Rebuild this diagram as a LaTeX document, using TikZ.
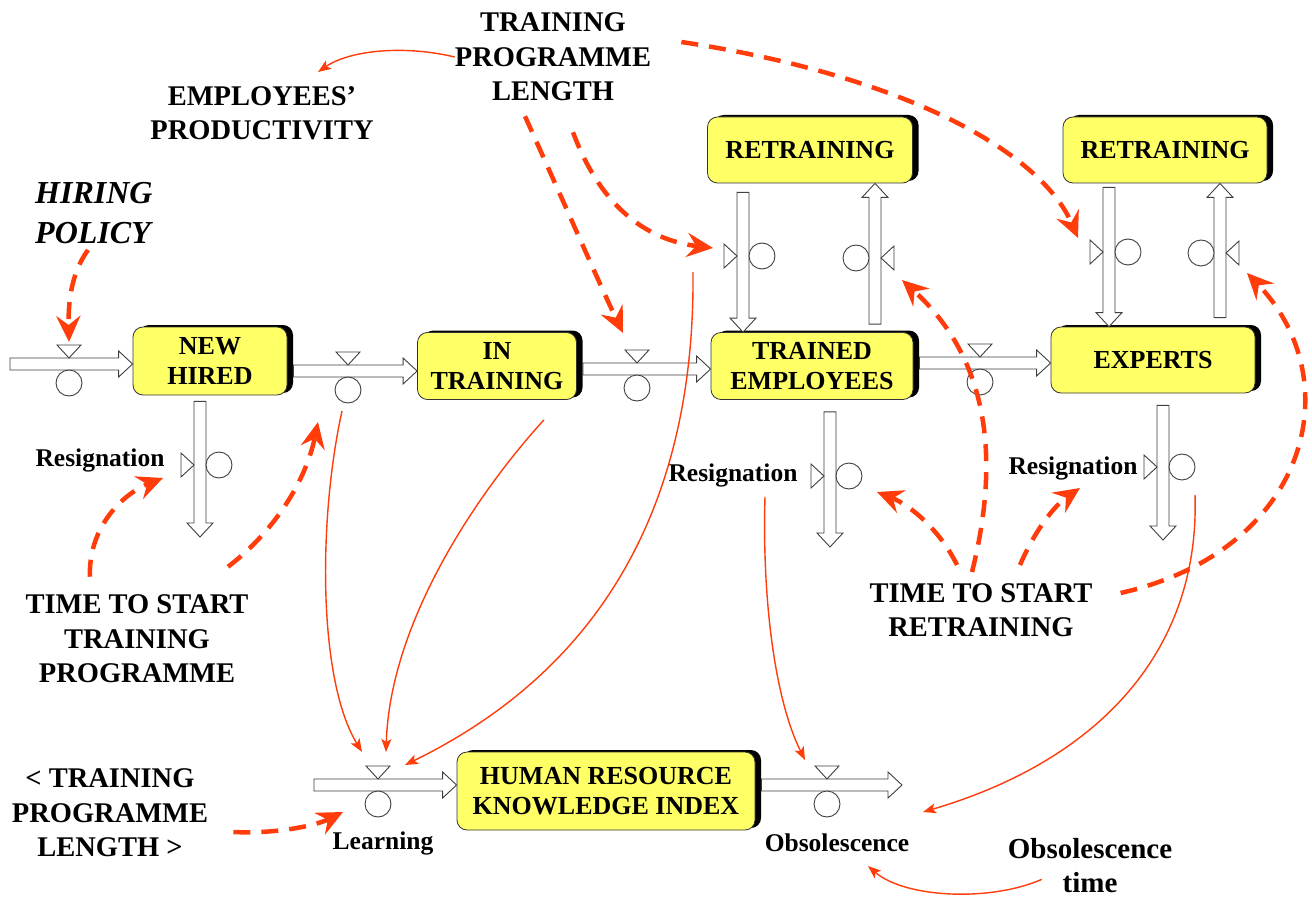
\documentclass[tikz,border=0pt]{standalone}
\usepackage{fontspec}
\setmainfont{Liberation Serif}
\usetikzlibrary{arrows.meta,calc,shadows}
\definecolor{boxYellow}{RGB}{255,255,102}
\definecolor{linkRed}{RGB}{255,60,10}

% pipe of a flow: [gap at tail]{tail}{head}
\newcommand\flowpipe[3][0pt]{%
  \coordinate (pA0) at (#2);
  \coordinate (pB) at (#3);
  \coordinate (pA) at ($(pA0)!#1!(pB)$);
  \coordinate (pH) at ($(pB)!14pt!(pA)$);
  \draw[pipeLine] ($(pA)!6pt!90:(pB)$) -- ($(pH)!6pt!90:(pB)$)
    -- ($(pH)!13pt!90:(pB)$) -- (pB) -- ($(pH)!13pt!-90:(pB)$)
    -- ($(pH)!6pt!-90:(pB)$) -- ($(pA)!6pt!-90:(pB)$) -- cycle;}

\begin{document}
\begin{tikzpicture}
  [x=1pt,y=-1pt,
   box/.style={draw=black!80, line width=0.8pt, fill=boxYellow, rounded corners=10pt,
     align=center, inner sep=0pt, font=\fontsize{26}{30}\selectfont\bfseries,
     general shadow={fill=black, shadow xshift=6pt, shadow yshift=2pt}},
   lbl/.style={align=center, inner sep=0pt, font=\fontsize{28.5}{34.5}\selectfont\bfseries},
   smallLbl/.style={inner sep=0pt, font=\fontsize{25.5}{30}\selectfont\bfseries},
   pipeLine/.style={draw=black!75, line width=0.9pt, fill=white},
   valveLine/.style={draw=black!75, line width=0.9pt, fill=white},
   link/.style={linkRed, line width=1.4pt, -{Stealth[length=13pt,width=10pt,inset=3pt]}},
   dlink/.style={linkRed, line width=4.5pt, dash pattern=on 17pt off 11pt,
     -{Stealth[length=26pt,width=24pt,inset=9pt]}},
   valve/.pic={
     \draw[valveLine] (-12pt,19pt) -- (12pt,19pt) -- (0pt,6pt) -- cycle;
     \draw[valveLine] (0pt,-19pt) circle[radius=13pt];
   },
  ]
 \fill[white] (0,0) rectangle (1312,904);
 \useasboundingbox (0,0) rectangle (1312,904);

 % stocks
 \node[box, minimum width=154pt, minimum height=68pt] (nh) at (210,361) {NEW\\HIRED};
 \node[box, minimum width=159pt, minimum height=67pt] (it) at (497,366) {IN\\TRAINING};
 \node[box, minimum width=202pt, minimum height=67pt] (te) at (812,366) {TRAINED\\EMPLOYEES};
 \node[box, minimum width=204pt, minimum height=66pt] (ex) at (1153,360) {EXPERTS};
 \node[box, minimum width=205pt, minimum height=66pt] (rt1) at (810,150) {RETRAINING};
 \node[box, minimum width=204pt, minimum height=66pt] (rt2) at (1165,150) {RETRAINING};
 \node[box, minimum width=298pt, minimum height=78pt] (hr) at (606,791) {HUMAN RESOURCE\\KNOWLEDGE INDEX};

 % valve positions, sources and sinks
 \coordinate (vIn) at (69,364);
 \coordinate (vNI) at (348,371);
 \coordinate (vIT) at (637,369);
 \coordinate (vTE) at (980,363);
 \coordinate (vNHr) at (200,465);
 \coordinate (vTEr) at (830,476);
 \coordinate (vEXr) at (1163,467);
 \coordinate (vR1d) at (743,256);
 \coordinate (vR1u) at (875,258);
 \coordinate (vR2d) at (1109,252);
 \coordinate (vR2u) at (1220,253);
 \coordinate (vL) at (378,785);
 \coordinate (vO) at (827,785);
 \coordinate (srcIn) at (10,364);
 \coordinate (srcL) at (314,785);
 \coordinate (sinkNH) at (200,537);
 \coordinate (sinkTE) at (830,547);
 \coordinate (sinkEX) at (1163,540);
 \coordinate (sinkO) at (902,785);

 % flows
 \flowpipe{srcIn}{nh.west |- vIn}
 \flowpipe[6pt]{nh.east |- vNI}{it.west |- vNI}
 \flowpipe[6pt]{it.east |- vIT}{te.west |- vIT}
 \flowpipe[6pt]{te.east |- vTE}{ex.west |- vTE}
 \flowpipe[6pt]{nh.south -| vNHr}{sinkNH}
 \flowpipe[12pt]{te.south -| vTEr}{sinkTE}
 \flowpipe[12pt]{ex.south -| vEXr}{sinkEX}
 \flowpipe[9pt]{rt1.south -| vR1d}{te.north -| vR1d}
 \flowpipe[8pt]{te.north -| vR1u}{rt1.south -| vR1u}
 \flowpipe[4pt]{rt2.south -| vR2d}{ex.north -| vR2d}
 \flowpipe[9pt]{ex.north -| vR2u}{rt2.south -| vR2u}
 \flowpipe{srcL}{hr.west |- vL}
 \flowpipe[6pt]{hr.east |- vO}{sinkO}

 \pic at (vIn) {valve};
 \pic at (vNI) {valve};
 \pic at (vIT) {valve};
 \pic at (vTE) {valve};
 \pic[rotate=90] at (vNHr) {valve};
 \pic[rotate=90] at (vTEr) {valve};
 \pic[rotate=90] at (vEXr) {valve};
 \pic[rotate=90] at (vR1d) {valve};
 \pic[rotate=-90] at (vR1u) {valve};
 \pic[rotate=90] at (vR2d) {valve};
 \pic[rotate=-90] at (vR2u) {valve};
 \pic at (vL) {valve};
 \pic at (vO) {valve};

 % labels
 \node[lbl] (tpl) at (553,57) {TRAINING\\PROGRAMME\\LENGTH};
 \node[lbl] (prod) at (262,113) {EMPLOYEES’\\PRODUCTIVITY};
 \node[lbl, font=\fontsize{32}{40}\selectfont\bfseries\itshape, align=left, anchor=west] (hire) at (35,213) {HIRING\\POLICY};
 \node[lbl] (tstt) at (137,639) {TIME TO START\\TRAINING\\PROGRAMME};
 \node[lbl] (tplB) at (110,813) {< TRAINING\\PROGRAMME\\LENGTH >};
 \node[lbl] (tstr) at (981,610) {TIME TO START\\RETRAINING};
 \node[lbl, font=\fontsize{29}{34}\selectfont\bfseries] (obst) at (1090,866) {Obsolescence\\time};
 \node[smallLbl] (resA) at (100,460) {Resignation};
 \node[smallLbl] (resB) at (733,475) {Resignation};
 \node[smallLbl] (resC) at (1073,468) {Resignation};
 \node[smallLbl] (learn) at (383,843) {Learning};
 \node[smallLbl] (obs) at (837,843) {Obsolescence};

 % arrow tips
 \coordinate (tProd) at (318,72);
 \coordinate (tL1) at (362,752);
 \coordinate (tL2) at (386,752);
 \coordinate (tL3) at (405,765);
 \coordinate (tO1) at (805,760);
 \coordinate (tO2) at (923,812);
 \coordinate (tO3) at (868,866);
 \coordinate (tIn) at (69,342);
 \coordinate (tResA) at (163,478);
 \coordinate (tNI) at (318,422);
 \coordinate (tLd) at (343,812);
 \coordinate (tIT) at (623,333);
 \coordinate (tR1d) at (713,248);
 \coordinate (tR2d) at (1078,238);
 \coordinate (tResB) at (877,492);
 \coordinate (tResC) at (1080,488);
 \coordinate (tR1u) at (902,280);
 \coordinate (tR2u) at (1247,273);

 % information links
 \draw[link] (tpl.west) .. controls (405,45) and (350,50) .. (tProd);
 \draw[link] ($(vNI)+(-6,40)$) .. controls (318,520) and (318,680) .. (tL1);
 \draw[link] ($(it.south east)+(-33,20)$) .. controls (480,490) and (390,620) .. (tL2);
 \draw[link] ($(vR1d)+(-50,16)$) .. controls (695,480) and (620,660) .. (tL3);
 \draw[link] ($(resB.south)+(32,10)$) .. controls (762,600) and (775,700) .. (tO1);
 \draw[link] ($(vEXr)+(32,28)$) .. controls (1200,650) and (1100,760) .. (tO2);
 \draw[link] ($(obst.south west)+(34,-14)$) .. controls (990,902) and (905,898) .. (tO3);

 \draw[dlink] ($(hire.south west)+(53,6)$) .. controls (72,272) and (68,300) .. (tIn);
 \draw[dlink] ($(tstt.north)+(-47,-18)$) .. controls (88,530) and (120,495) .. (tResA);
 \draw[dlink] ($(tstt.north)+(91,-28)$) .. controls (270,535) and (305,485) .. (tNI);
 \draw[dlink] ($(tplB.east)+(25,19)$) .. controls (275,834) and (315,826) .. (tLd);
 \draw[dlink] ($(tpl.south)+(-28,15)$) .. controls (565,205) and (600,285) .. (tIT);
 \draw[dlink] ($(tpl.south)+(20,31)$) .. controls (600,205) and (645,240) .. (tR1d);
 \draw[dlink] ($(tpl.east)+(30,-15)$) .. controls (900,75) and (1040,150) .. (tR2d);
 \draw[dlink] ($(tstr.north)+(-24,-18)$) .. controls (940,530) and (910,505) .. (tResB);
 \draw[dlink] ($(tstr.north)+(39,-18)$) .. controls (1035,530) and (1055,505) .. (tResC);
 \draw[dlink] ($(tstr.north)+(-9,-11)$) .. controls (1000,460) and (990,360) .. (tR1u);
 \draw[dlink] ($(tstr.east)+(28,-17)$) .. controls (1310,550) and (1350,380) .. (tR2u);
\end{tikzpicture}
\end{document}
